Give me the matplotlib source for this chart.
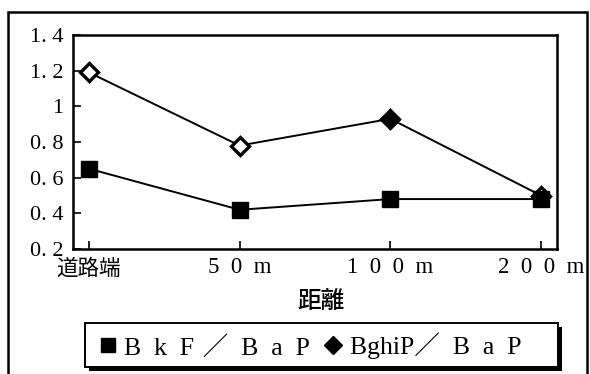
import matplotlib
matplotlib.use("Agg")
import matplotlib.pyplot as plt
from matplotlib.lines import Line2D
from matplotlib.patches import Rectangle

EN = "\u2002"  # en space, gives the wide full-width look to the labels
TS = "\u2004"  # three-per-em space

# distance from the road edge
categories = ["道路端", EN.join("50m"), EN.join("100m"), EN.join("200m")]
bkf_bap = [0.65, 0.42, 0.48, 0.48]
bghip_bap = [1.19, 0.78, 0.93, 0.50]
y_ticks = [0.2, 0.4, 0.6, 0.8, 1.0, 1.2, 1.4]
y_labels = ["0. 2", "0. 4", "0. 6", "0. 8", "1", "1. 2", "1. 4"]
series_labels = [EN.join("BkF") + TS + "／" + EN + EN.join("BaP"),
                 "BghiP／" + EN + EN.join("BaP")]

serif = ["Liberation Serif", "Noto Sans CJK JP"]
jp = ["Noto Sans CJK JP", "DejaVu Sans"]

W, H = 590, 374
fig = plt.figure(figsize=(W / 100, H / 100), dpi=100)
ax = fig.add_axes([73 / W, 1 - 249 / H, (557 - 73) / W, (249 - 35) / H])

x = range(len(categories))
ax.plot(x, bghip_bap, color="black", lw=1.4, zorder=2)
# open diamonds except the 100 m point, which is filled
faces = ["white", "white", "black", "white"]
for xi, yi, fc in zip(x, bghip_bap, faces):
    ax.plot(xi, yi, marker="D", ms=9, mfc=fc, mec="black", mew=2.4, zorder=3)
ax.plot(x, bkf_bap, color="black", lw=1.4, marker="s", ms=12,
        mfc="black", mec="black", zorder=4)

ax.set_xlim(-0.106, 3.106)
ax.set_ylim(0.2, 1.4)
ax.set_yticks(y_ticks)
ax.set_yticklabels(y_labels, family=serif, fontsize=16)
ax.set_xticks(list(x))
ax.set_xticklabels(categories, family=serif, fontsize=16.5)
ax.get_xticklabels()[0].set_family(jp)
ax.get_xticklabels()[0].set_fontsize(15.5)
ax.tick_params(direction="in", length=6, width=1.2)
ax.tick_params(axis="y", pad=7)
ax.tick_params(axis="x", pad=6)
for s in ax.spines.values():
    s.set_linewidth(1.8)

fig.text(321 / W, 1 - 302 / H, "距離", family=jp, fontsize=17,
         ha="center", va="center", weight="medium")

# outer frame
fig.add_artist(Rectangle((8 / W, -0.05), (587 - 8) / W, 1.05 - 12 / H,
                         transform=fig.transFigure, fill=False, lw=1.8,
                         edgecolor="black"))

# legend box with a solid drop shadow
bx0, by0, bx1, by1 = 85, 323, 558, 367
fig.add_artist(Rectangle(((bx0 + 4) / W, 1 - (by1 + 4) / H), (bx1 - bx0) / W,
                         (by1 - by0) / H, transform=fig.transFigure,
                         facecolor="black", edgecolor="none", zorder=5))
fig.add_artist(Rectangle((bx0 / W, 1 - by1 / H), (bx1 - bx0) / W,
                         (by1 - by0) / H, transform=fig.transFigure,
                         facecolor="white", edgecolor="black", lw=1.4,
                         zorder=6))

handles = [
    Line2D([], [], ls="none", marker="s", ms=10, color="black"),
    Line2D([], [], ls="none", marker="D", ms=9, color="black"),
]
leg = fig.legend(handles, series_labels,
                 loc="center left", bbox_to_anchor=(82 / W, 1 - 346 / H),
                 ncol=2, prop={"family": serif, "size": 18.5},
                 handlelength=0.6, handletextpad=0.35, columnspacing=0.6,
                 frameon=False, borderpad=0.2)
leg.set_zorder(7)

fig.savefig("out.png", dpi=100)
